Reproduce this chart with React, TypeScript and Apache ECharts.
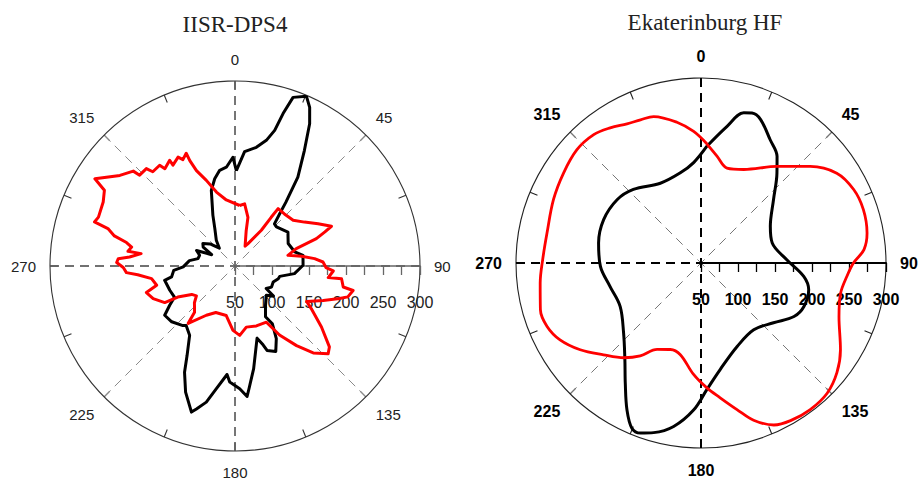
import React, { useEffect, useRef } from "react";
import * as echarts from "echarts";

const titles = ["IISR-DPS4", "Ekaterinburg HF"];
const angleTicks = [0, 45, 90, 135, 180, 225, 270, 315];
const radialTicks = [50, 100, 150, 200, 250, 300];

// IISR-DPS4, black curve (angle in degrees clockwise from north, value)
const dps4BlackAngle = [0.8, 4.8, 10.2, 14, 16.3, 17.5, 19, 22.8, 25.2, 27.7, 31, 35.3, 38.6, 40.5, 43.1, 46.7, 57.3, 67.1, 76.8, 81.1, 89.4, 97.3, 103.1, 106.4, 112.8, 120, 125.9, 128, 133, 142, 149, 147.1, 150.4, 154.5, 159.2, 160.4, 163, 169.7, 173.5, 174.7, 177.8, 182.6, 184.2, 188.7, 191.9, 195.1, 196.6, 201.4, 205.4, 208.2, 213.2, 219.4, 221.2, 228.6, 235, 239, 242.8, 249.6, 258.5, 260.2, 265.9, 269, 276.7, 281.3, 286.9, 292, 295.9, 300.7, 305, 311.6, 318.7, 324, 331.5, 336.5, 342.6, 346.9, 350.9, 355, 358.9];
const dps4BlackValue = [179, 205, 213, 225, 241, 266, 291, 299, 287, 267, 232, 197, 160, 143, 128, 127, 135, 128, 133, 143, 142, 131, 112, 111, 106, 107, 102, 116, 108, 117, 130, 143, 163, 178, 172, 163, 152, 191, 217, 227, 216, 207, 197, 218, 238, 250, 256, 233, 209, 187, 162, 154, 157, 164, 166, 153, 142, 144, 147, 137, 133, 120, 112, 101, 100, 106, 85, 100, 103, 95, 82, 93, 107, 125, 157, 171, 181, 184, 197];

// IISR-DPS4, red curve
const dps4RedAngle = [4.4, 8.8, 14.9, 17.6, 27, 30.2, 36.4, 36.6, 36.9, 43.5, 51.8, 57.7, 63, 67.6, 69.2, 71.4, 72.6, 74.2, 78.6, 81.7, 84.7, 87.4, 91, 92.9, 97.1, 96.8, 101, 101.7, 105.3, 107.3, 111.3, 116.3, 119.2, 125.2, 130.6, 133.3, 138, 142.3, 147.2, 150.8, 160.4, 169.5, 176.1, 181.8, 190, 202.4, 210.2, 219.2, 221.2, 227.8, 232.2, 236.7, 241.5, 242.5, 248.3, 253.3, 256.2, 261.4, 264.9, 266.5, 269.2, 271.7, 273.6, 274.9, 277.5, 277.8, 280.4, 282.2, 284, 286.4, 287.4, 289.7, 295.9, 300.1, 301.9, 308.2, 313, 313.6, 317.7, 318.9, 323.2, 324.2, 328.3, 328.4, 332.4, 333.9, 336.6, 336.8, 338, 341.5, 345.9, 352.5];
const dps4RedValue = [132, 135, 118, 100, 80, 85, 110, 132, 147, 147, 150, 161, 176, 191, 180, 166, 151, 136, 123, 141, 158, 169, 173, 183, 177, 195, 199, 213, 208, 198, 178, 158, 168, 193, 218, 223, 208, 186, 161, 137, 136, 134, 144, 137, 118, 118, 127, 150, 133, 124, 116, 120, 138, 157, 169, 175, 159, 164, 182, 197, 201, 210, 208, 193, 178, 196, 192, 200, 218, 229, 249, 246, 248, 254, 273, 248, 238, 228, 228, 219, 220, 212, 218, 210, 216, 210, 216, 205, 189, 172, 153, 140];

// Ekaterinburg HF, black curve
const ekbBlackAngle = [2.9, 10.8, 15.9, 18.8, 22.5, 29.3, 35.5, 40.2, 48.9, 62.1, 74.3, 87.8, 97.4, 104, 112.9, 119.9, 129.5, 141.7, 156.6, 169.7, 177.3, 182.9, 189.5, 195.6, 199.6, 202.7, 206.8, 212.2, 218.3, 227.9, 241.8, 255.6, 268.1, 281, 294, 307, 317.4, 333, 347.1, 355.8];
const ekbBlackValue = [208, 238, 261, 264, 260, 241, 227, 209, 180, 156, 150, 166, 190, 200, 201, 195, 177, 165, 173, 196, 221, 249, 274, 288, 294, 292, 272, 242, 216, 191, 174, 177, 186, 191, 194, 192, 185, 171, 175, 186];

// Ekaterinburg HF, red curve
const ekbRedAngle = [2.9, 8.5, 15.3, 24.6, 38.2, 48.5, 56.5, 64.3, 71.8, 79.8, 85.3, 90, 95.2, 102.2, 111.2, 121.9, 128.9, 135.9, 143.3, 150.4, 155.8, 161.5, 166.2, 171.9, 177.3, 183.8, 192.7, 199.5, 206.9, 213.2, 219.1, 226.7, 234.3, 241.4, 247.6, 253.8, 262.9, 271.2, 281, 293.3, 303.2, 312.4, 320.1, 326.1, 332, 337.1, 342.1, 350.3, 356.8];
const ekbRedValue = [211, 196, 183, 189, 216, 247, 270, 279, 281, 278, 271, 256, 248, 243, 250, 272, 286, 295, 297, 295, 290, 274, 254, 234, 219, 201, 177, 174, 181, 200, 215, 231, 251, 267, 275, 276, 269, 264, 262, 267, 272, 277, 276, 270, 263, 260, 258, 243, 228];

const toPolar = (angles: number[], values: number[]) => {
  const pts = angles.map((a, i) => [values[i], a < 90 ? a + 360 : a]);
  pts.push(pts[0]);
  return pts;
};

const angleFmt = (v: number) => {
  const d = ((v % 360) + 360) % 360;
  return v < 450 && angleTicks.includes(d) ? String(d) : "";
};
const radialFmt = (v: number) => (radialTicks.includes(v) ? String(v) : "");

export default function App() {
  const ref = useRef<HTMLDivElement>(null);
  useEffect(() => {
    if (!ref.current) return;
    const chart = echarts.init(ref.current, null, { renderer: "svg" });
    const centers = [
      [235, 266],
      [701, 263],
    ];
    const R = 185;
    const styles = [
      { circle: "#333", diag: "#8a8a8a", main: "#555", mainW: 1.4, axis: "#666", axisW: 1.6, bold: "normal", lab: "#222", labSize: 15, radSize: 16 },
      { circle: "#222", diag: "#777", main: "#000", mainW: 2, axis: "#000", axisW: 2, bold: "bold", lab: "#000", labSize: 16, radSize: 16 },
    ];
    const polar: any[] = [];
    const angleAxis: any[] = [];
    const radiusAxis: any[] = [];
    centers.forEach((c, k) => {
      const s = styles[k];
      polar.push({ center: c, radius: [0, R] }, { center: c, radius: [0, R] });
      const base = 2 * k;
      angleAxis.push(
        {
          polarIndex: base,
          type: "value",
          min: 90,
          max: 450,
          interval: 45,
          startAngle: 0,
          clockwise: true,
          z: 0,
          axisLine: { show: true, lineStyle: { color: s.circle, width: 1.1 } },
          axisTick: { show: true, inside: true, length: 8, lineStyle: { color: s.circle, width: 1.1 } },
          minorTick: { show: true, splitNumber: 2, length: 8, lineStyle: { color: s.circle, width: 1.1 } },
          axisLabel: {
            show: true,
            margin: 14,
            formatter: angleFmt,
            color: s.lab,
            fontSize: s.labSize,
            fontWeight: s.bold,
            fontFamily: "Liberation Sans, Arial, sans-serif",
          },
          splitLine: { show: true, lineStyle: { color: s.diag, width: 1, type: [9, 6] } },
        },
        {
          polarIndex: base + 1,
          type: "value",
          min: 90,
          max: 450,
          interval: 90,
          startAngle: 0,
          clockwise: true,
          z: 1,
          axisLine: { show: false },
          axisTick: { show: false },
          axisLabel: { show: false },
          splitLine: { show: true, lineStyle: { color: s.main, width: s.mainW, type: [9, 6] } },
        }
      );
      radiusAxis.push(
        {
          polarIndex: base,
          type: "value",
          min: 50,
          max: 300,
          interval: 25,
          z: 1.5,
          axisLine: { show: true, lineStyle: { color: s.axis, width: s.axisW } },
          axisTick: { show: true, length: -9, lineStyle: { color: s.axis, width: 1.3 } },
          splitLine: { show: false },
          axisLabel: {
            show: true,
            margin: -44,
            showMinLabel: true,
            showMaxLabel: true,
            formatter: radialFmt,
            color: s.lab,
            fontSize: s.radSize,
            fontWeight: s.bold,
            fontFamily: "Liberation Sans, Arial, sans-serif",
          },
        },
        {
          polarIndex: base + 1,
          type: "value",
          min: 50,
          max: 300,
          show: false,
          splitLine: { show: false },
        }
      );
    });

    const line = (polarIndex: number, data: any[], color: string, width: number, smooth: any) => ({
      type: "line",
      coordinateSystem: "polar",
      polarIndex,
      data,
      symbol: "none",
      showSymbol: false,
      smooth,
      silent: true,
      z: 3,
      lineStyle: { color, width, join: "round" },
    });

    chart.setOption({
      animation: false,
      textStyle: { fontFamily: "Liberation Sans, Arial, sans-serif" },
      title: titles.map((t, k) => ({
        text: t,
        left: [235, 705][k],
        top: [13, 11][k],
        textAlign: "center",
        padding: 0,
        textStyle: { fontFamily: "Liberation Serif, Times New Roman, serif", fontSize: 23, fontWeight: "normal", color: "#222" },
      })),
      polar,
      angleAxis,
      radiusAxis,
      series: [
        line(0, toPolar(dps4BlackAngle, dps4BlackValue), "#000", 3, false),
        line(0, toPolar(dps4RedAngle, dps4RedValue), "#ff0000", 3, false),
        line(2, toPolar(ekbBlackAngle, ekbBlackValue), "#000", 3, 0.35),
        line(2, toPolar(ekbRedAngle, ekbRedValue), "#ff0000", 2.8, 0.35),
      ],
    });
    return () => chart.dispose();
  }, []);
  return <div ref={ref} style={{ position: "absolute", left: 0, top: 0, width: 920, height: 479, background: "#fff" }} />;
}
